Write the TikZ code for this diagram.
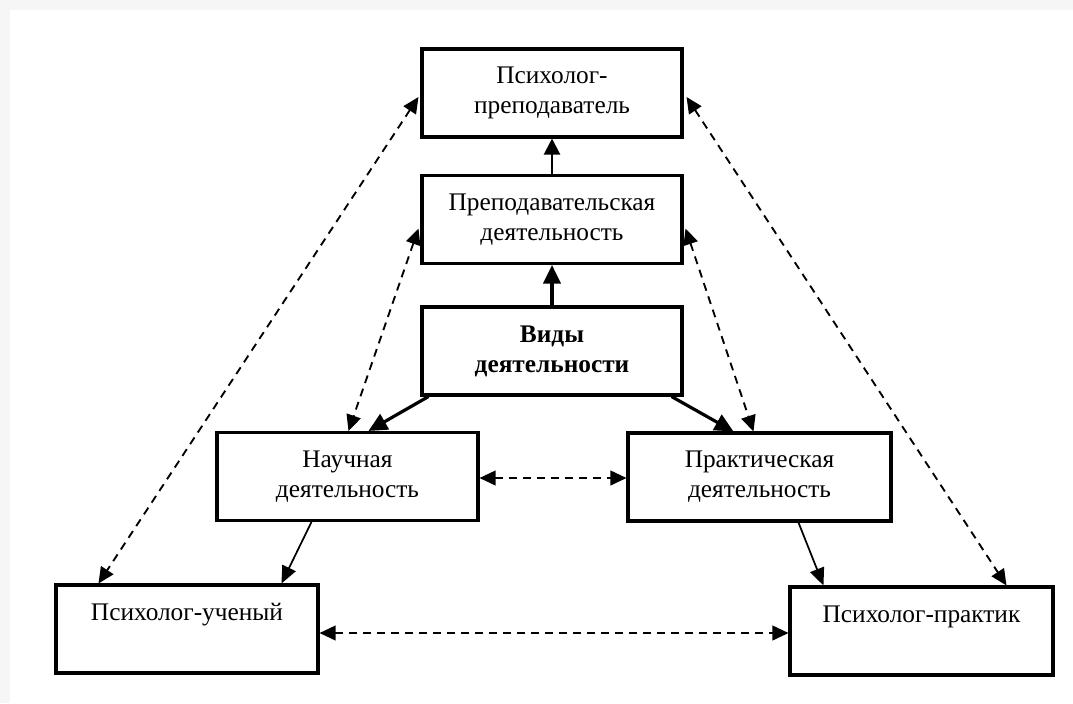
\documentclass[tikz,border=0pt]{standalone}
\usepackage{fontspec}
\setmainfont{Liberation Serif}
\usetikzlibrary{arrows.meta,calc}
\begin{document}
\begin{tikzpicture}[x=0.75pt,y=-0.75pt,
  box/.style={draw,line width=2.3pt,fill=white,minimum width=#1*0.75pt,minimum height=88*0.75pt,inner sep=0pt,
    align=center,font=\fontsize{19}{22.5}\selectfont},
  lbl/.style={align=center,font=\fontsize{19}{22.5}\selectfont},
  thick arrow/.style={line width=2.4pt,-{Triangle[length=14pt,width=13pt]}},
  mid arrow/.style={line width=1.6pt,-{Triangle[length=12pt,width=12pt]}},
  thin arrow/.style={line width=1.3pt,-{Triangle[length=13pt,width=11pt]}},
  dash arrow/.style={line width=1.4pt,dash pattern=on 6pt off 4.5pt,
    {Triangle[length=12pt,width=11pt]}-{Triangle[length=12pt,width=11pt]}}]
\fill[gray!7] (0,0) rectangle (1073,703);
\fill[white] (10,10) rectangle (1073,703);
\useasboundingbox (0,0) rectangle (1073,703);

\node[box=260] (tp) at (552,93) {Психолог-\\преподаватель};
\node[box=260] (pd) at (552,219.5) {Преподавательская\\деятельность};
\node[box=260] (vidy) at (552,351) {\textbf{Виды}\\\textbf{деятельности}};
\node[box=261] (nauch) at (347.5,476.5) {Научная\\деятельность};
\node[box=263] (prakt) at (759.5,477) {Практическая\\деятельность};
\node[box=262] (uch) at (187,629) {};
\node[lbl] (uchT) at (187,615) {Психолог-ученый};
\node[box=263] (prak2) at (921.5,631) {};
\node[lbl] (prak2T) at (921.5,617) {Психолог-практик};

% vertical
\draw[thick arrow] (vidy.north) -- (pd.south);
\draw[mid arrow] (pd.north) -- (tp.south);
% thick diagonals
\draw[thick arrow] ($(vidy.south west)+(8,0)$) -- ($(nauch.north west)+(153,0)$);
\draw[thick arrow] ($(vidy.south east)+(-12,0)$) -- ($(prakt.north west)+(107,0)$);
% thin solid
\draw[thin arrow] ($(nauch.south west)+(96,0)$) -- ($(uch.north west)+(227,0)$);
\draw[thin arrow] ($(prakt.south west)+(172,0)$) -- ($(prak2.north west)+(35,0)$);
% dashed doubles
\draw[dash arrow] ($(pd.west)+(-2,9)$) -- ($(nauch.north west)+(133,0)$);
\draw[dash arrow] ($(pd.east)+(2,9)$) -- ($(prakt.north west)+(127,0)$);
\draw[dash arrow] ($(tp.west)+(-2,4)$) -- ($(uch.north west)+(44,0)$);
\draw[dash arrow] ($(tp.east)+(3,4)$) -- ($(prak2.north west)+(218,0)$);
\draw[dash arrow] ($(nauch.east)+(0,1.5)$) -- ($(prakt.west)+(0,1)$);
\draw[dash arrow] ($(uch.east)+(0,4)$) -- ($(prak2.west)+(0,2)$);
\end{tikzpicture}
\end{document}
